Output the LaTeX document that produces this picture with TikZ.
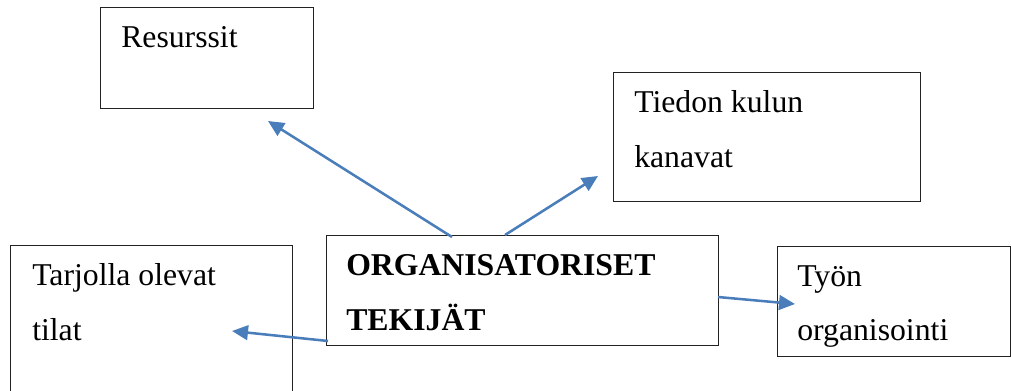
\documentclass[tikz,border=0pt]{standalone}
\usepackage{fontspec}
\setmainfont{Liberation Serif}
\usetikzlibrary{arrows.meta}
\definecolor{arrowblue}{HTML}{4A7EBB}
\definecolor{boxline}{HTML}{222222}
\begin{document}
\begin{tikzpicture}[x=0.75pt,y=-0.75pt,
  box/.style={draw=boxline,line width=1.1pt,anchor=north west,inner sep=0pt},
  txt/.style={anchor=base west,inner sep=0pt,font=\fontsize{23.8}{28}\selectfont},
  btxt/.style={txt,font=\fontsize{23.8}{28}\selectfont\bfseries},
  link/.style={draw=arrowblue,line width=1.9pt,-{Triangle[length=12pt,width=11pt]}}]
\useasboundingbox (0,0) rectangle (1011,390);

% boxes
\node[box,minimum width=213*0.75pt,minimum height=101*0.75pt] (res) at (100,7) {};
\node[box,minimum width=307*0.75pt,minimum height=129*0.75pt] (tie) at (613,72) {};
\node[box,minimum width=282*0.75pt,minimum height=160*0.75pt] (tar) at (10,245) {};
\node[box,minimum width=392*0.75pt,minimum height=110*0.75pt] (org) at (326,235) {};
\node[box,minimum width=233*0.75pt,minimum height=110*0.75pt] (tyo) at (777,246) {};

% texts
\node[txt] (tres) at (121,47) {Resurssit};
\node[txt] (ttie1) at (634,112) {Tiedon kulun};
\node[txt] (ttie2) at (634,167) {kanavat};
\node[txt] (ttar1) at (32,285) {Tarjolla olevat};
\node[txt] (ttar2) at (32,340) {tilat};
\node[btxt] (torg1) at (346,275) {ORGANISATORISET};
\node[btxt] (torg2) at (346,330) {TEKIJÄT};
\node[txt] (ttyo1) at (797,286) {Työn};
\node[txt] (ttyo2) at (797,340) {organisointi};

% arrow ends
\coordinate (s1) at (452,237);
\coordinate (e1) at (268,121);
\coordinate (s2) at (505,235);
\coordinate (e2) at (598,176);
\coordinate (s3) at (328,341);
\coordinate (e3) at (232,331);
\coordinate (s4) at (718,297);
\coordinate (e4) at (795,304);

\draw[link] (s1) -- (e1);
\draw[link] (s2) -- (e2);
\draw[link] (s3) -- (e3);
\draw[link] (s4) -- (e4);
\end{tikzpicture}
\end{document}
